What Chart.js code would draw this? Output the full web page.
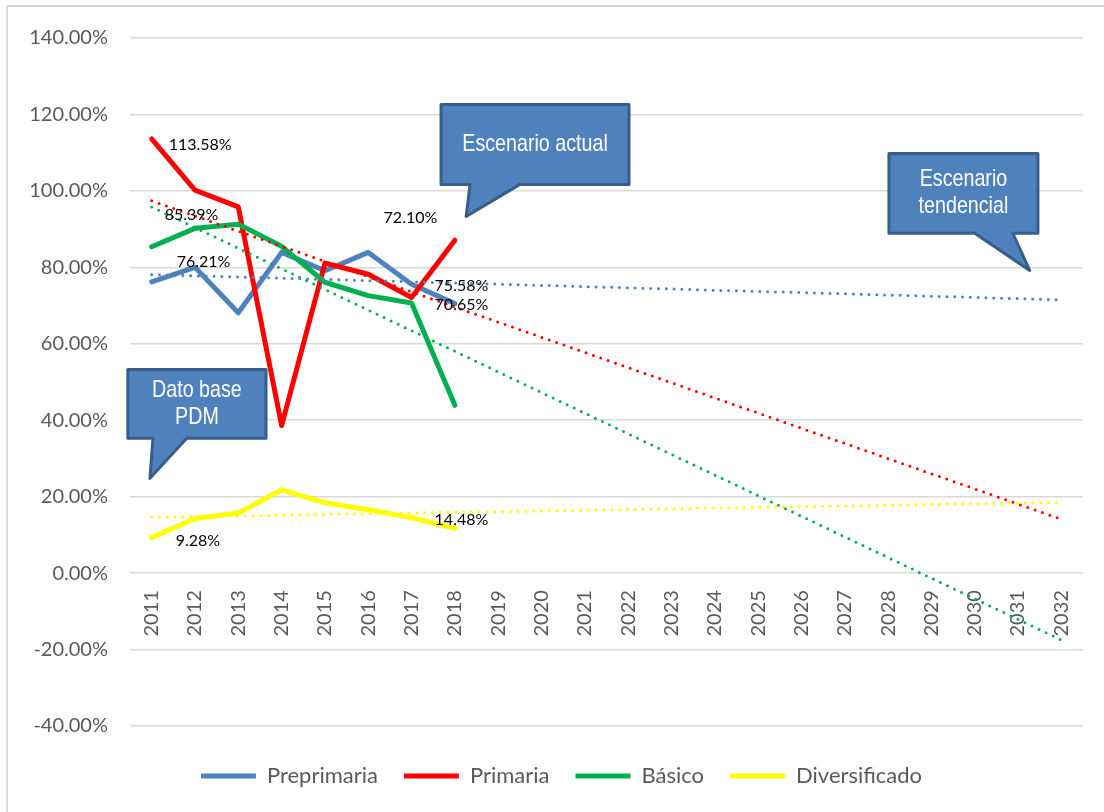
<!DOCTYPE html>
<html>
<head>
<meta charset="utf-8">
<script src="https://cdn.jsdelivr.net/npm/chart.js@4.4.1/dist/chart.umd.min.js"></script>
<style>
  html, body { margin: 0; padding: 0; background: #fff; overflow: hidden; }
  #wrap { position: relative; width: 1104px; height: 812px; overflow: hidden; }
  #frame { position: absolute; left: 6px; top: 5px; width: 1110px; height: 820px; border: 2px solid #d9d9d9; pointer-events: none; }
</style>
</head>
<body>
<div id="wrap">
  <canvas id="chart" width="1104" height="812"></canvas>
  <div id="frame"></div>
</div>
<script>
const years = ['2011', '2012', '2013', '2014', '2015', '2016', '2017', '2018', '2019', '2020', '2021',
  '2022', '2023', '2024', '2025', '2026', '2027', '2028', '2029', '2030', '2031', '2032'];

// valores (2011-2018)
const preprimaria = [76.21, 80.0, 68.1, 83.9, 79.1, 83.9, 75.58, 70.5];
const primaria = [113.58, 100.2, 95.8, 38.6, 81.1, 78.2, 72.10, 87.1];
const basico = [85.39, 90.2, 91.3, 85.5, 76.1, 72.6, 70.65, 43.9];
const diversificado = [9.28, 14.3, 15.7, 21.8, 18.4, 16.6, 14.48, 11.7];

// lineas de tendencia: valor en 2011 y en 2032
const trendPreprimaria = [78.1, 71.5];
const trendPrimaria = [97.4, 14.1];
const trendBasico = [95.8, -17.5];
const trendDiversificado = [14.6, 18.5];

// puntos con etiqueta de valor (indices de years)
const labeledPoints = [0, 6];

const yMin = -40, yMax = 140, yStep = 20;

const colors = {
  Preprimaria: '#4f81bd',
  Primaria: '#ff0000',
  'Básico': '#00b050',
  Diversificado: '#ffff00'
};

function trendData(t) {
  return years.map((y, i) => i === 0 ? t[0] : (i === years.length - 1 ? t[1] : null));
}

function mainSeries(label, data, order) {
  return {
    label: label,
    data: data,
    borderColor: colors[label],
    backgroundColor: colors[label],
    borderWidth: 5,
    pointRadius: 0,
    tension: 0,
    borderJoinStyle: 'round',
    borderCapStyle: 'round',
    order: order
  };
}

function trendSeries(label, t) {
  return {
    label: 'Tendencia ' + label,
    data: trendData(t),
    borderColor: colors[label],
    borderWidth: 3,
    borderDash: [0, 7.8],
    borderCapStyle: 'round',
    pointRadius: 0,
    spanGaps: true,
    order: 0
  };
}

// desplazamientos de las etiquetas respecto al punto
const labelOffsets = {
  Preprimaria: [[25, -20], [23, 2]],
  Primaria: [[17, 6], [-28, -80]],
  'Básico': [[13, -32], [23, 2]],
  Diversificado: [[24, 3], [23, 2]]
};

const callouts = [
  { lines: ['Escenario actual'], box: [6.68, 122.6, 11.02, 101.7], tail: [7.35, 8.50, 7.26, 93.3] },
  { lines: ['Escenario', 'tendencial'], box: [17.02, 109.8, 20.46, 88.9], tail: [19.00, 19.88, 20.27, 79.2] },
  { lines: ['Dato base', 'PDM'], box: [-0.55, 53.3, 2.64, 35.3], tail: [0.03, 0.81, -0.04, 24.8] }
];

const labelsPlugin = {
  id: 'valueLabels',
  afterDatasetsDraw(chart) {
    const ctx = chart.ctx;
    const xs = chart.scales.x, ys = chart.scales.y;
    ctx.save();
    ctx.font = '16px Lato, "Open Sans", sans-serif';
    ctx.fillStyle = '#000';
    ctx.textAlign = 'left';
    ctx.textBaseline = 'middle';
    chart.data.datasets.slice(0, 4).forEach(ds => {
      labeledPoints.forEach((idx, k) => {
        const v = ds.data[idx];
        const off = labelOffsets[ds.label][k];
        const px = xs.getPixelForValue(idx) + off[0];
        const py = ys.getPixelForValue(v) + off[1];
        ctx.fillText(v.toFixed(2) + '%', px, py);
      });
    });
    ctx.restore();
  }
};

const calloutPlugin = {
  id: 'callouts',
  afterLayout(chart) {
    // la leyenda del original esta algo desplazada a la derecha
    chart.legend.left += 20;
    chart.legend.right += 20;
  },
  afterDraw(chart) {
    const ctx = chart.ctx;
    const xs = chart.scales.x, ys = chart.scales.y;
    const X = v => xs.getPixelForValue(v);
    const Y = v => ys.getPixelForValue(v);
    callouts.forEach(c => {
      const l = X(c.box[0]), t = Y(c.box[1]), r = X(c.box[2]), b = Y(c.box[3]);
      ctx.save();
      ctx.beginPath();
      ctx.moveTo(l, t);
      ctx.lineTo(r, t);
      ctx.lineTo(r, b);
      ctx.lineTo(X(c.tail[1]), b);
      ctx.lineTo(X(c.tail[2]), Y(c.tail[3]));
      ctx.lineTo(X(c.tail[0]), b);
      ctx.lineTo(l, b);
      ctx.closePath();
      ctx.fillStyle = '#4f81bd';
      ctx.fill();
      ctx.lineWidth = 3;
      ctx.lineJoin = 'round';
      ctx.strokeStyle = '#385d8a';
      ctx.stroke();

      // texto estrecho tipo Arial Narrow
      const cx = (l + r) / 2, cy = (t + b) / 2;
      const lh = 27;
      const narrow = 0.82;
      ctx.fillStyle = '#ffffff';
      ctx.font = '24px "Liberation Sans", Arial, sans-serif';
      ctx.textAlign = 'center';
      ctx.textBaseline = 'middle';
      ctx.translate(cx, 0);
      ctx.scale(narrow, 1);
      c.lines.forEach((txt, i) => {
        ctx.fillText(txt, 0, cy + (i - (c.lines.length - 1) / 2) * lh);
      });
      ctx.restore();
    });
  }
};

const ctx = document.getElementById('chart').getContext('2d');
const chart = new Chart(ctx, {
  type: 'line',
  data: {
    labels: years,
    datasets: [
      mainSeries('Preprimaria', preprimaria, 4),
      mainSeries('Primaria', primaria, 3),
      mainSeries('Básico', basico, 2),
      mainSeries('Diversificado', diversificado, 1),
      trendSeries('Preprimaria', trendPreprimaria),
      trendSeries('Primaria', trendPrimaria),
      trendSeries('Básico', trendBasico),
      trendSeries('Diversificado', trendDiversificado)
    ]
  },
  options: {
    responsive: false,
    animation: false,
    layout: { padding: { top: 38, right: 21, left: 0, bottom: 15 } },
    plugins: {
      tooltip: { enabled: false },
      legend: {
        position: 'bottom',
        labels: {
          boxWidth: 55,
          boxHeight: 5,
          padding: 26,
          color: '#595959',
          font: { family: 'Lato, "Open Sans", sans-serif', size: 22 },
          generateLabels: chart => chart.data.datasets.slice(0, 4).map((ds, i) => ({
            text: ds.label,
            fillStyle: ds.borderColor,
            strokeStyle: ds.borderColor,
            lineWidth: 0,
            fontColor: '#595959',
            datasetIndex: i,
            hidden: false
          }))
        }
      }
    },
    scales: {
      x: {
        position: { y: 0 },
        offset: true,
        grid: { display: false, drawTicks: false },
        border: { display: false },
        ticks: {
          autoSkip: false,
          minRotation: 90,
          maxRotation: 90,
          padding: 17,
          color: '#595959',
          font: { family: 'Lato, "Open Sans", sans-serif', size: 20 }
        }
      },
      spacer: {
        type: 'category',
        position: 'bottom',
        grid: { display: false, drawTicks: false },
        border: { display: false },
        ticks: { display: false },
        afterFit: s => { s.height = 13; }
      },
      y: {
        min: yMin,
        max: yMax,
        grid: { color: '#d9d9d9', lineWidth: 1.5, drawTicks: false },
        border: { display: false },
        ticks: {
          stepSize: yStep,
          padding: 22,
          color: '#595959',
          font: { family: 'Lato, "Open Sans", sans-serif', size: 20 },
          callback: v => v.toFixed(2) + '%'
        },
        afterFit: s => { s.width = 130; }
      }
    }
  },
  plugins: [labelsPlugin, calloutPlugin]
});
</script>
</body>
</html>
